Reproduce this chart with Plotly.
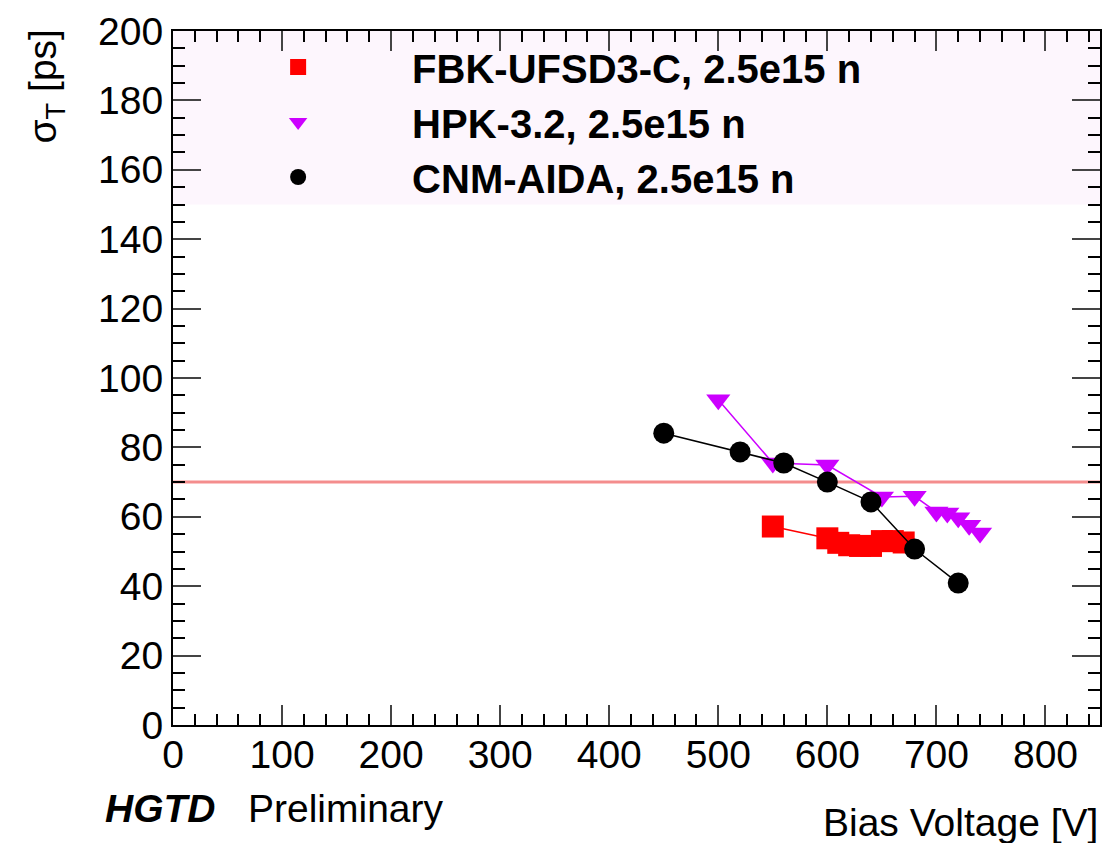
import plotly.graph_objects as go

# ---- data ----
fbk_v = [550, 600, 610, 620, 630, 640, 650, 660, 670]
fbk_t = [57.2, 53.8, 52.5, 51.8, 51.6, 51.6, 53.0, 53.0, 52.6]

hpk_v = [500, 550, 600, 650, 680, 700, 710, 720, 730, 740]
hpk_t = [93.7, 75.5, 74.9, 65.7, 65.9, 61.4, 61.1, 59.7, 57.6, 55.3]

cnm_v = [450, 520, 560, 600, 640, 680, 720]
cnm_t = [84.1, 78.7, 75.5, 70.0, 64.3, 50.7, 40.9]

names = ["FBK-UFSD3-C, 2.5e15 n", "HPK-3.2, 2.5e15 n", "CNM-AIDA, 2.5e15 n"]
colors = ["#ff0000", "#cc00ff", "#000000"]
symbols = ["square", "triangle-down", "circle"]
sizes = [22, 21, 21]
series_v = [fbk_v, hpk_v, cnm_v]
series_t = [fbk_t, hpk_t, cnm_t]
target = 70
band = [150, 200]

FONT = "Liberation Sans, Arial, Helvetica, sans-serif"

fig = go.Figure()
for i in range(3):
    fig.add_trace(go.Scatter(x=series_v[i], y=series_t[i], mode="lines+markers",
                             showlegend=False,
                             line=dict(color=colors[i], width=1.5),
                             marker=dict(symbol=symbols[i], size=sizes[i], color=colors[i])))
# legend entries (markers only, as in the reference)
for i in range(3):
    fig.add_trace(go.Scatter(x=[None], y=[None], mode="markers", name="<b>" + names[i] + "</b>",
                             legendgroup=str(i),
                             marker=dict(symbol=symbols[i], size=sizes[i], color=colors[i])))

fig.add_shape(type="rect", xref="paper", x0=0, x1=1, yref="y", y0=band[0], y1=band[1],
              fillcolor="#fdf6fd", line=dict(width=0), layer="below")
fig.add_shape(type="line", xref="paper", x0=0, x1=1, yref="y", y0=target, y1=target,
              line=dict(color="rgba(238,80,80,0.65)", width=3), layer="below")

axis_common = dict(showline=True, linecolor="black", linewidth=2, mirror="allticks",
                   ticks="inside", showgrid=False, zeroline=False,
                   tickfont=dict(family=FONT, size=39, color="black"))

fig.update_xaxes(range=[0, 850], tick0=0, dtick=100, ticklen=20, tickwidth=1.5,
                 tickcolor="#444", ticklabelstandoff=-6,
                 minor=dict(ticks="inside", dtick=20, ticklen=11, tickwidth=1.5, tickcolor="black"),
                 **axis_common)
fig.update_yaxes(range=[0, 200], tick0=0, dtick=20, ticklen=28, tickwidth=1.5,
                 tickcolor="#444",
                 minor=dict(ticks="inside", dtick=5, ticklen=12, tickwidth=1.5, tickcolor="black"),
                 **axis_common)

fig.add_annotation(text="σ<sub>T</sub> [ps]", xref="paper", yref="paper", x=-0.137, y=1.005,
                   xanchor="center", yanchor="top", textangle=-90, showarrow=False,
                   font=dict(family=FONT, size=39, color="black"))
fig.add_annotation(text="Bias Voltage [V]", xref="paper", yref="paper", x=1.0, y=-0.14,
                   xanchor="right", yanchor="middle", showarrow=False,
                   font=dict(family=FONT, size=39, color="black"))
fig.add_annotation(text="<b><i>HGTD</i></b>   Preliminary", xref="paper", yref="paper",
                   x=-0.075, y=-0.12, xanchor="left", yanchor="middle", showarrow=False,
                   font=dict(family=FONT, size=39, color="black"))

fig.update_layout(
    width=1109, height=843,
    margin=dict(l=173, r=7, t=31, b=118),
    paper_bgcolor="white", plot_bgcolor="white",
    showlegend=True,
    legend=dict(x=0.012, y=0.995, xanchor="left", yanchor="top",
                bgcolor="rgba(0,0,0,0)", itemwidth=218, tracegroupgap=0,
                font=dict(family=FONT, size=40, color="black"),
                itemsizing="trace"),
    font=dict(family=FONT),
)

fig.write_html("out.html")
